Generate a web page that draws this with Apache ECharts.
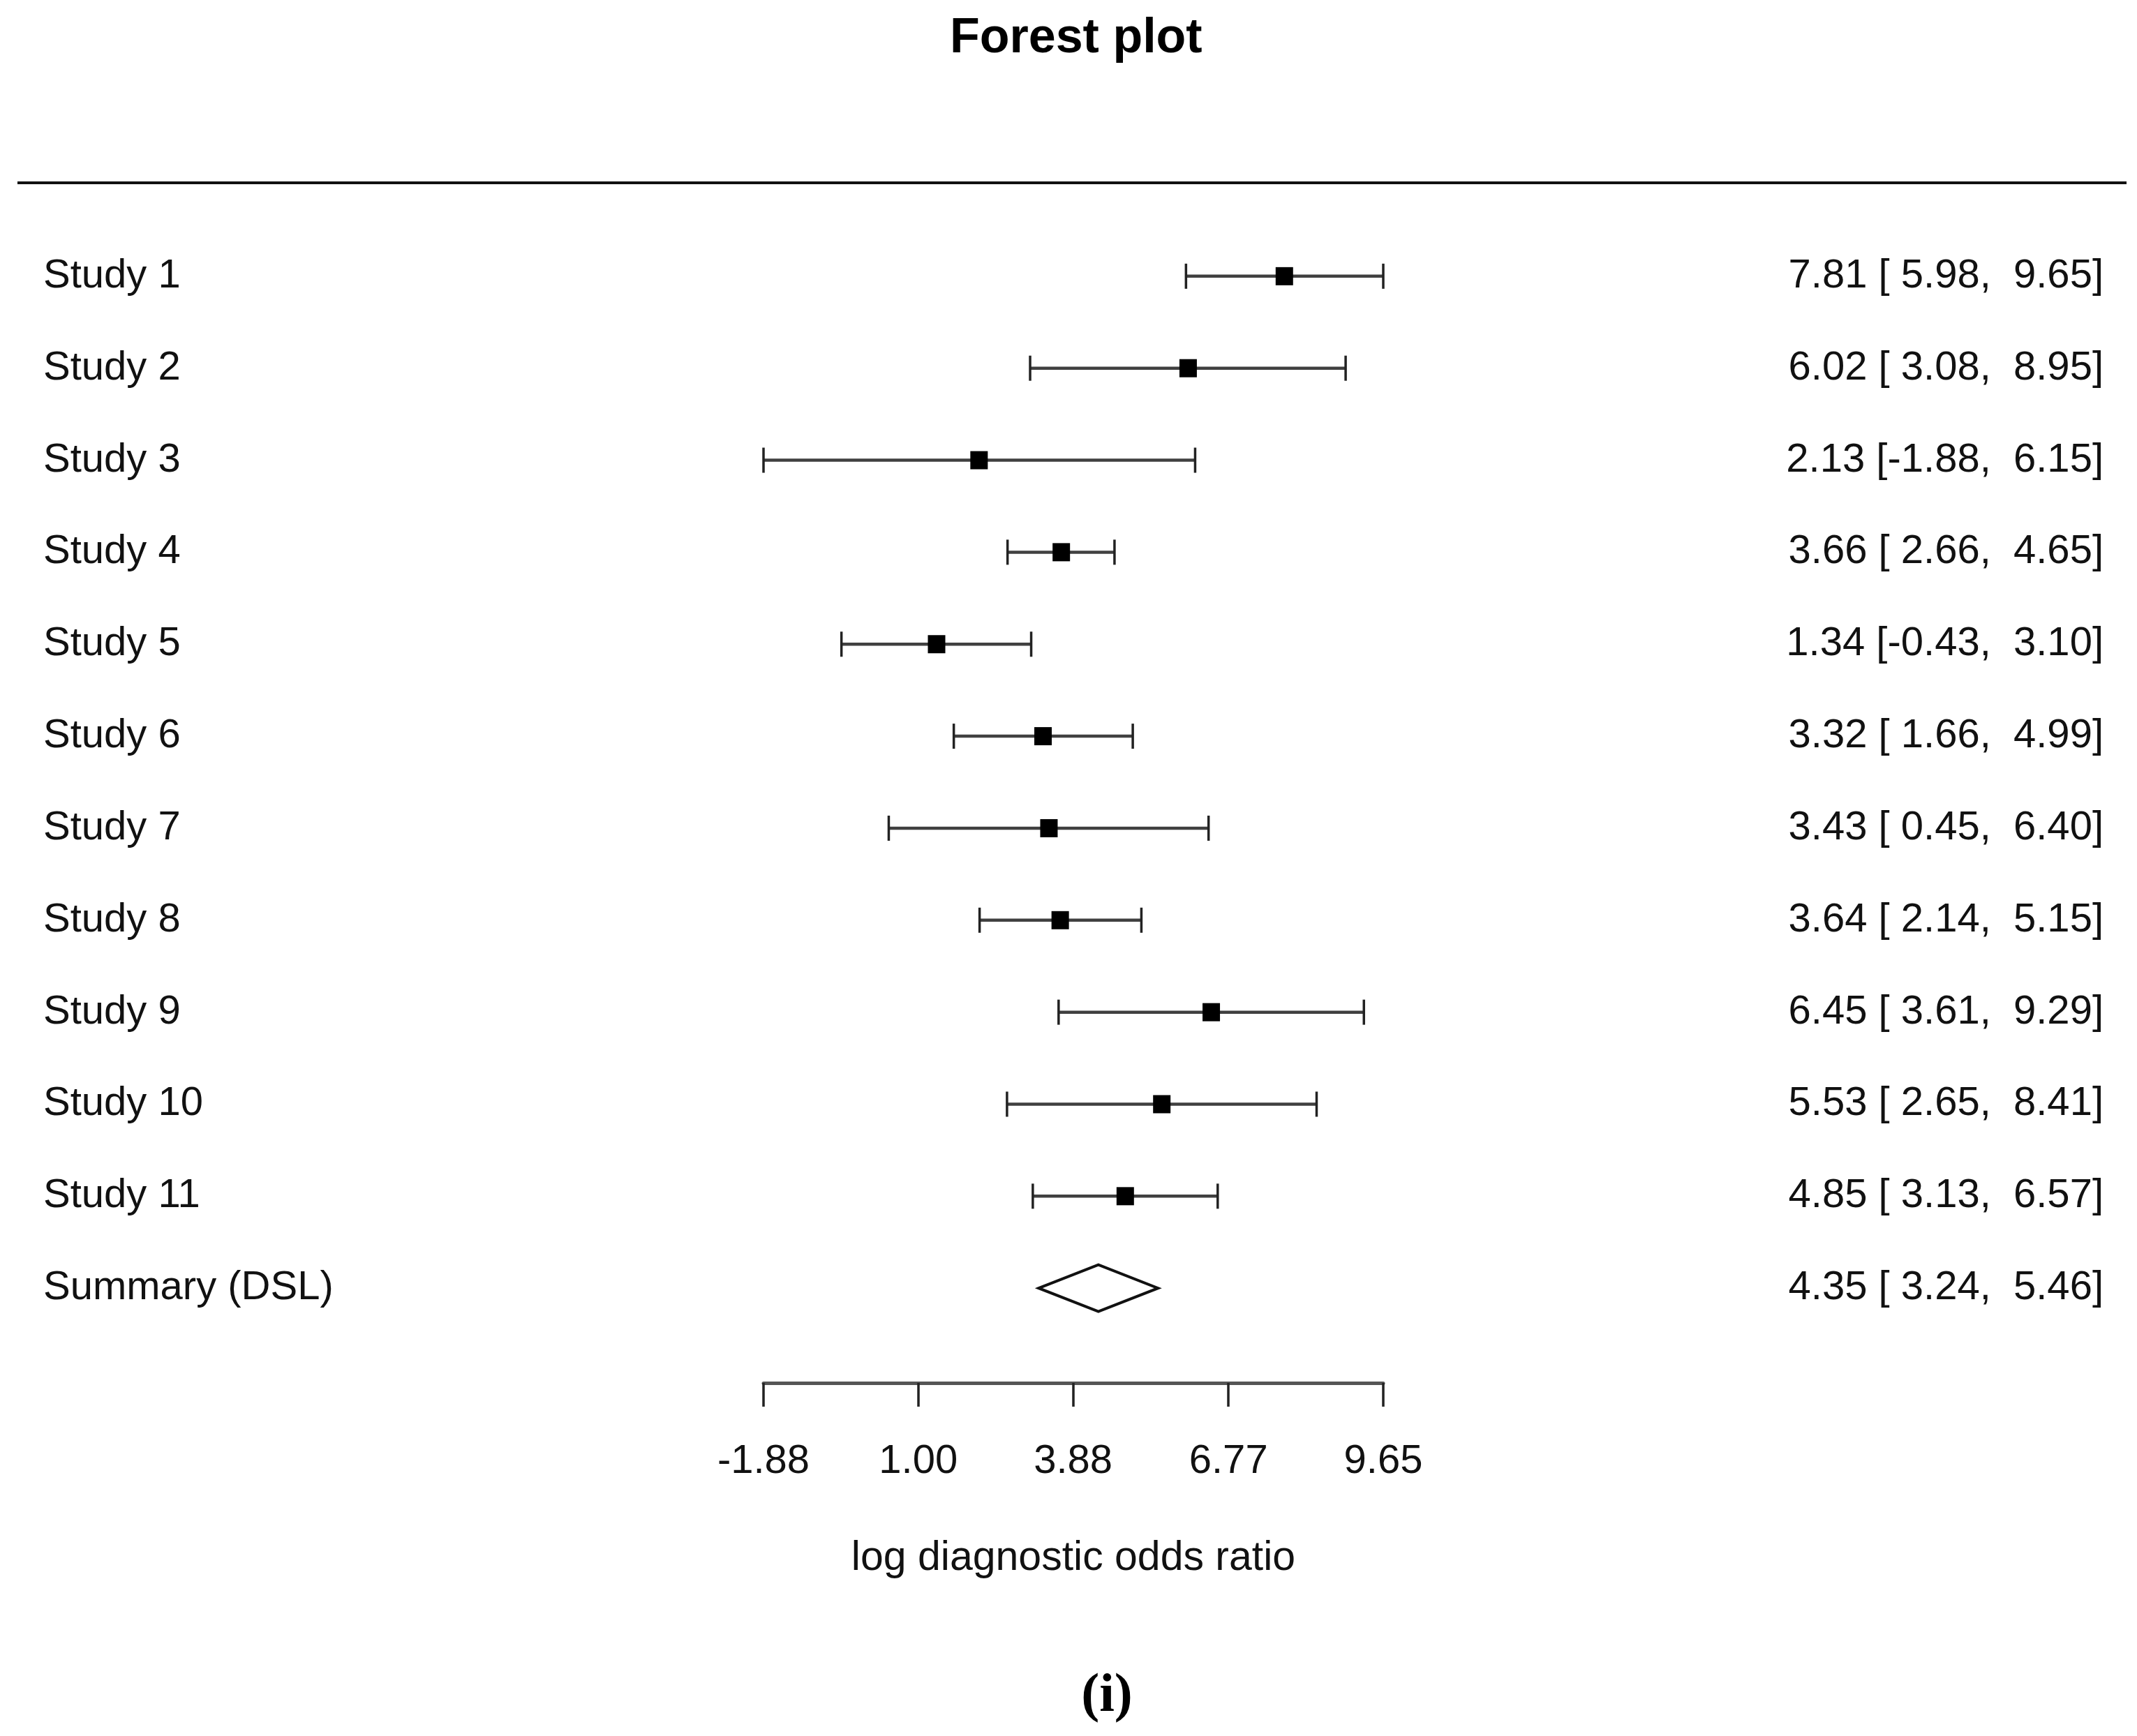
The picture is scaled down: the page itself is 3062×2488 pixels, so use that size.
<!DOCTYPE html>
<html><head><meta charset="utf-8">
<script src="https://cdn.jsdelivr.net/npm/echarts@6/dist/echarts.min.js"></script>
<style>html,body{margin:0;padding:0;background:#fff}#c{width:3062px;height:2488px}</style>
</head><body><div id="c"></div>
<script>
// ---- data ----
const studies = ["Study 1","Study 2","Study 3","Study 4","Study 5","Study 6","Study 7","Study 8","Study 9","Study 10","Study 11"];
const estimates = [7.81, 6.02, 2.13, 3.66, 1.34, 3.32, 3.43, 3.64, 6.45, 5.53, 4.85];
const lower     = [5.98, 3.08, -1.88, 2.66, -0.43, 1.66, 0.45, 2.14, 3.61, 2.65, 3.13];
const upper     = [9.65, 8.95, 6.15, 4.65, 3.10, 4.99, 6.40, 5.15, 9.29, 8.41, 6.57];
const summaryLabel = "Summary (DSL)";
const summaryEst = [4.35];
const summaryLower = [3.24];
const summaryUpper = [5.46];
const tickValues = [-1.88, 1.00, 3.88, 6.77, 9.65];
const tickLabels = ["-1.88", "1.00", "3.88", "6.77", "9.65"];

// ---- derived ----
const rowNames = studies.concat([summaryLabel]);
const rowIdx = rowNames.map((_, i) => i + 1);
function pad(v){ let s = v.toFixed(2); while (s.length < 5) s = ' ' + s; return s; }
function ciText(e, l, u){ return e.toFixed(2) + ' [' + pad(l) + ', ' + pad(u) + ']'; }
const rightText = estimates.map((e, i) => ciText(e, lower[i], upper[i]))
  .concat([ciText(summaryEst[0], summaryLower[0], summaryUpper[0])]);

const FONT = '"Liberation Sans", Arial, Helvetica, sans-serif';
const FS = 58;
const Y_MAX = 13.03;

const chart = echarts.init(document.getElementById('c'), null, {renderer: 'canvas', width: 3062, height: 2488});

const option = {
  animation: false,
  backgroundColor: '#ffffff',
  title: {
    text: 'Forest plot', left: 1356, top: 16,
    textStyle: {fontFamily: FONT, fontSize: 70, fontWeight: 'bold', color: '#000'}
  },
  grid: {left: 1094, right: 1080, top: 264, bottom: 506, containLabel: false},
  xAxis: {
    type: 'value', min: -1.88, max: 9.65,
    axisLine: {show: true, onZero: false, lineStyle: {color: '#555', width: 5}},
    axisTick: {show: true, customValues: tickValues, length: 34, lineStyle: {color: '#222', width: 3.5}},
    axisLabel: {
      customValues: tickValues, margin: 84,
      formatter: v => { const k = tickValues.indexOf(v); return k >= 0 ? tickLabels[k] : v.toFixed(2); },
      fontFamily: FONT, fontSize: FS, color: '#111'
    },
    splitLine: {show: false},
    name: 'log diagnostic odds ratio', nameLocation: 'middle', nameGap: 252,
    nameTextStyle: {fontFamily: FONT, fontSize: FS + 1, color: '#111', verticalAlign: 'middle'}
  },
  yAxis: [
    {
      type: 'value', min: 0, max: Y_MAX, inverse: true, position: 'left',
      axisLine: {show: false}, axisTick: {show: false}, splitLine: {show: false},
      axisLabel: {
        customValues: rowIdx, formatter: v => rowNames[Math.round(v) - 1] || '',
        align: 'left', margin: 1032, fontFamily: FONT, fontSize: FS, color: '#111'
      }
    },
    {
      type: 'value', min: 0, max: Y_MAX, inverse: true, position: 'right',
      axisLine: {show: false}, axisTick: {show: false}, splitLine: {show: false},
      axisLabel: {
        customValues: rowIdx, formatter: v => rightText[Math.round(v) - 1] || '',
        align: 'right', margin: 1032, fontFamily: FONT, fontSize: FS, color: '#111'
      }
    }
  ],
  series: [
    {
      type: 'custom', name: 'studies', xAxisIndex: 0, yAxisIndex: 0,
      data: studies.map((s, i) => [lower[i], upper[i], estimates[i], i + 1]),
      encode: {x: [0, 1, 2], y: 3},
      renderItem: (params, api) => {
        const y = api.value(3);
        const lo = api.coord([api.value(0), y]);
        const hi = api.coord([api.value(1), y]);
        const mid = api.coord([api.value(2), y]);
        const cap = 18;
        return {
          type: 'group',
          children: [
            {type: 'line', shape: {x1: lo[0], y1: lo[1], x2: hi[0], y2: hi[1]}, style: {stroke: '#404040', lineWidth: 4.5}},
            {type: 'line', shape: {x1: lo[0], y1: lo[1] - cap, x2: lo[0], y2: lo[1] + cap}, style: {stroke: '#222', lineWidth: 3.5}},
            {type: 'line', shape: {x1: hi[0], y1: hi[1] - cap, x2: hi[0], y2: hi[1] + cap}, style: {stroke: '#222', lineWidth: 3.5}},
            {type: 'rect', shape: {x: mid[0] - 12.5, y: mid[1] - 13, width: 25, height: 26}, style: {fill: '#000'}}
          ]
        };
      }
    },
    {
      type: 'custom', name: 'summary', xAxisIndex: 0, yAxisIndex: 0,
      data: summaryEst.map((e, i) => [summaryLower[i], summaryUpper[i], e, studies.length + 1 + i]),
      encode: {x: [0, 1, 2], y: 3},
      renderItem: (params, api) => {
        const y = api.value(3);
        const lo = api.coord([api.value(0), y]);
        const hi = api.coord([api.value(1), y]);
        const mid = api.coord([api.value(2), y]);
        const h = 33.5;
        return {
          type: 'polygon',
          shape: {points: [[lo[0], lo[1]], [mid[0], mid[1] - h], [hi[0], hi[1]], [mid[0], mid[1] + h]]},
          style: {fill: '#fff', stroke: '#111', lineWidth: 4}
        };
      }
    }
  ],
  graphic: [
    {type: 'line', shape: {x1: 25, y1: 262, x2: 3047, y2: 262}, style: {stroke: '#111', lineWidth: 4}},
    {type: 'text', x: 1586, y: 2432, style: {text: '(i)', fontFamily: '"Liberation Serif", "Times New Roman", serif', fontWeight: 'bold', fontSize: 78, fill: '#000', textAlign: 'center', textVerticalAlign: 'middle'}}
  ]
};
chart.setOption(option);
</script>
</body></html>
